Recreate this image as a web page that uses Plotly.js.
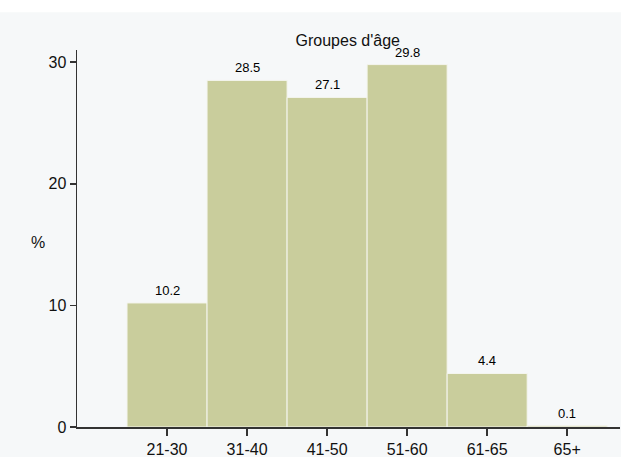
<!DOCTYPE html>
<html>
<head>
<meta charset="utf-8">
<script src="https://cdn.plot.ly/plotly-3.0.1.min.js"></script>
<style>html,body{margin:0;padding:0;background:#f6f8f9;}#chart{width:621px;height:457px;}</style>
</head>
<body>
<div id="chart"></div>
<script>
const categories = ["21-30", "31-40", "41-50", "51-60", "61-65", "65+"];
const values = [10.2, 28.5, 27.1, 29.8, 4.4, 0.1];
const labels = ["10.2", "28.5", "27.1", "29.8", "4.4", "0.1"];
const yTicks = [0, 10, 20, 30];

const trace = {
  type: "bar",
  x: categories,
  y: values,
  marker: {color: "#c9cd9c", line: {color: "#f4f5ee", width: 1}},
  hoverinfo: "none"
};

const valueAnnotations = categories.map((c, i) => ({
  x: c, y: values[i], xref: "x", yref: "y",
  text: labels[i], showarrow: false,
  xanchor: "center", yanchor: "bottom", yshift: 3,
  font: {family: "Liberation Sans, Arial, sans-serif", size: 13, color: "#000"}
}));

const layout = {
  width: 621, height: 457,
  margin: {l: 77, r: 1, t: 50, b: 30},
  paper_bgcolor: "#f6f8f9",
  plot_bgcolor: "rgba(0,0,0,0)",
  bargap: 0,
  showlegend: false,
  font: {family: "Liberation Sans, Arial, sans-serif", color: "#111"},
  title: {text: "Groupes d'âge", font: {size: 16, color: "#111"}, x: 0.56, xanchor: "center", y: 0.912, yanchor: "middle"},
  xaxis: {
    type: "category",
    range: [-1.125, 5.66],
    showgrid: false, zeroline: false,
    showline: true, linecolor: "#333", linewidth: 1.5,
    ticks: "outside", ticklen: 7, tickwidth: 1.5, tickcolor: "#333",
    tickfont: {size: 16, color: "#111"}
  },
  yaxis: {
    range: [0, 31],
    tickvals: yTicks,
    ticktext: yTicks.map(String),
    showgrid: false, zeroline: false,
    showline: true, linecolor: "#333", linewidth: 1.5,
    ticks: "outside", ticklen: 6, tickwidth: 1.5, tickcolor: "#333",
    tickfont: {size: 16, color: "#111"}
  },
  annotations: valueAnnotations.concat([{text: "%", xref: "paper", yref: "paper", x: -0.072, y: 0.49, xanchor: "center", yanchor: "middle", showarrow: false, font: {size: 16, color: "#111"}}]),
  shapes: [{type: "rect", xref: "paper", yref: "paper", x0: -0.2, x1: 1.1, y0: 1.1, y1: 1.2, fillcolor: "#ffffff", line: {width: 0}, layer: "below"}]
};

Plotly.newPlot("chart", [trace], layout, {displayModeBar: false, staticPlot: true});
</script>
</body>
</html>
